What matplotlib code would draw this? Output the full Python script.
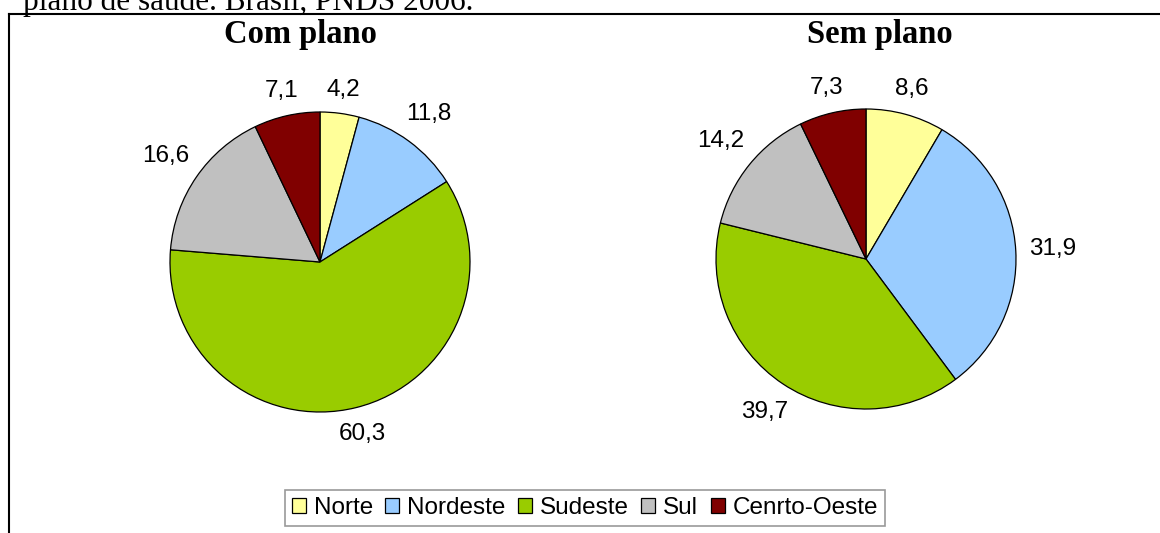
import numpy as np
import matplotlib
matplotlib.use("Agg")
import matplotlib.pyplot as plt
from matplotlib.lines import Line2D
from matplotlib.patches import Patch

# dados
regioes = ["Norte", "Nordeste", "Sudeste", "Sul", "Cenrto-Oeste"]
com_plano = [4.2, 11.8, 60.3, 16.6, 7.1]
sem_plano = [8.6, 31.9, 39.7, 14.2, 7.3]
cores = ["#FFFF99", "#99CCFF", "#99CC00", "#C0C0C0", "#800000"]
titulos = ["Com plano", "Sem plano"]

W, H = 1160, 533
fig = plt.figure(figsize=(W / 100, H / 100), dpi=100)

serif = "Liberation Serif"
sans = "Liberation Sans"

# legenda cortada do topo
fig.text(23 / W, 1 - 10 / H, "plano de saúde. Brasil, PNDS 2006.",
         family=serif, fontsize=22.5, va="baseline", ha="left")

# moldura do gráfico (continua além da imagem)
fig.add_artist(Line2D([9 / W, 1], [1 - 14 / H, 1 - 14 / H], color="black",
                      lw=1.5, transform=fig.transFigure))
fig.add_artist(Line2D([9 / W, 9 / W], [1 - 14 / H, 0], color="black",
                      lw=1.5, transform=fig.transFigure))

R = 150  # raio em pixels
s = 1.35
gap = 13  # distancia entre a borda e o rotulo, em pixels
centros = [(320, 262), (866, 259)]
titulo_x = [300, 880]

fig.canvas.draw()
renderer = fig.canvas.get_renderer()

for dados, (cx, cy), tit, tx in zip([com_plano, sem_plano], centros, titulos, titulo_x):
    w = 2 * R * s
    ax = fig.add_axes([(cx - w / 2) / W, 1 - (cy + w / 2) / H, w / W, w / H])
    rotulos = [f"{v:.1f}".replace(".", ",") for v in dados]
    wedges, texts = ax.pie(dados, colors=cores, startangle=90, counterclock=False,
                           labels=rotulos, labeldistance=1.2,
                           wedgeprops=dict(edgecolor="black", linewidth=0.9),
                           textprops=dict(family=sans, fontsize=17.5))
    ax.set_xlim(-s, s)
    ax.set_ylim(-s, s)
    ax.set_aspect("equal")
    ax.axis("off")
    # rotulos posicionados como no Excel: caixa do texto a uma distancia fixa da borda
    for wd, t in zip(wedges, texts):
        t.set_ha("center")
        t.set_va("center")
        ang = np.deg2rad((wd.theta1 + wd.theta2) / 2)
        bb = t.get_window_extent(renderer)
        hw, hh = bb.width / 2, bb.height / 2 * 0.8
        d = R + gap + abs(np.cos(ang)) * hw + abs(np.sin(ang)) * hh
        t.set_position((d / R * np.cos(ang), d / R * np.sin(ang)))
    fig.text(tx / W, 1 - 43 / H, tit, family=serif, weight="bold",
             fontsize=23.5, ha="center", va="baseline")

handles = [Patch(facecolor=c, edgecolor="black", linewidth=0.9) for c in cores]
leg = fig.legend(handles, regioes, loc="center", bbox_to_anchor=(585 / W, 1 - 508 / H),
                 ncol=5, prop=dict(family=sans, size=17.5), frameon=True, fancybox=False,
                 handlelength=0.58, handleheight=0.58, handletextpad=0.33,
                 columnspacing=0.5, borderpad=0.3, borderaxespad=0)
leg.get_frame().set_edgecolor("#808080")
leg.get_frame().set_linewidth(1.2)

fig.savefig("out.png", dpi=100)
